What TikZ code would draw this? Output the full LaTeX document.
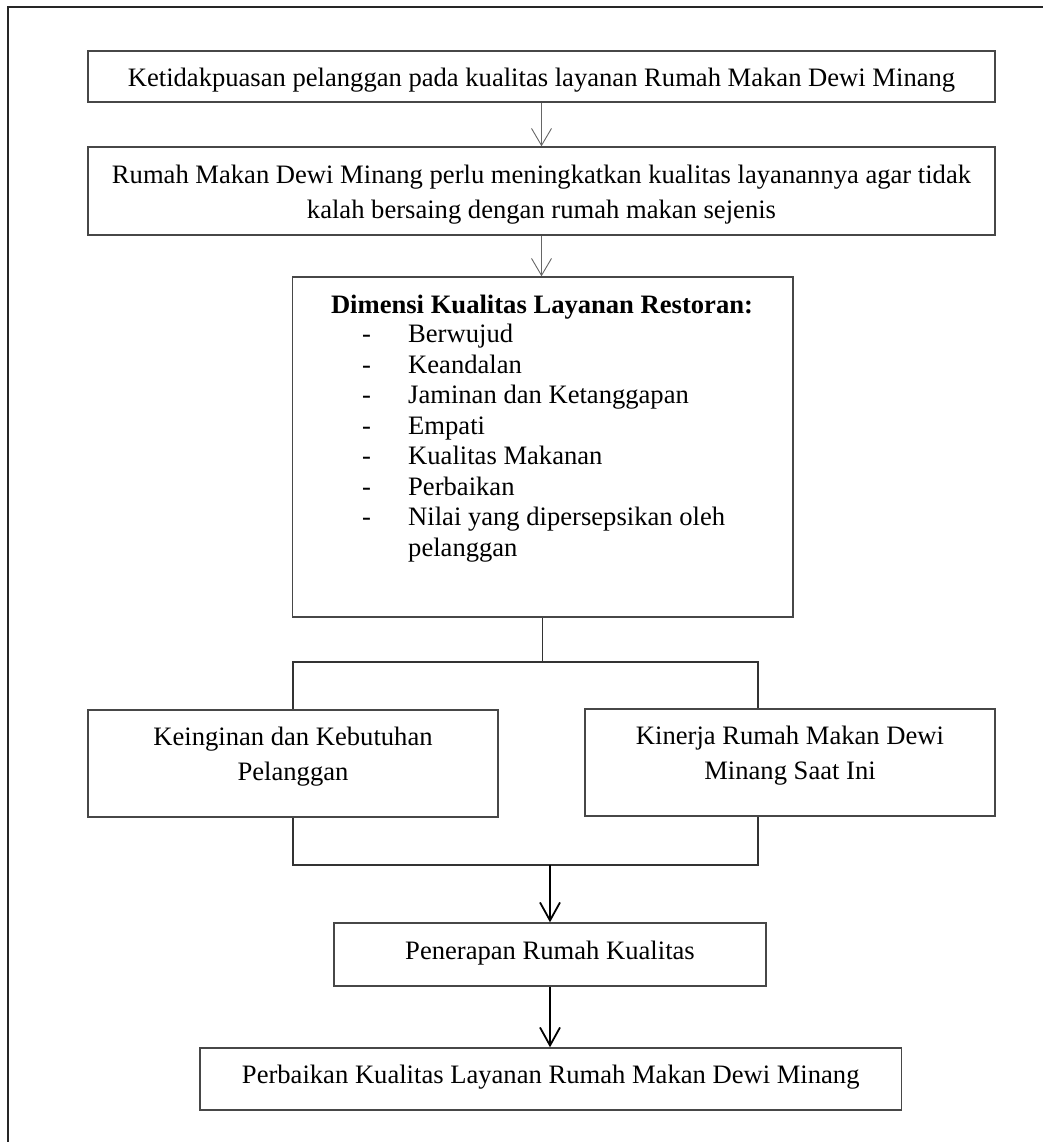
\documentclass[tikz,border=0pt]{standalone}
\usepackage{fontspec}
\setmainfont{Liberation Serif}
\usetikzlibrary{arrows.meta}
\begin{document}
\begin{tikzpicture}[x=1pt,y=-1pt,
  box/.style={draw=black!72,line width=1.4pt,inner sep=0pt},
  txt/.style={font={\fontsize{26.6}{35}\selectfont},align=center,inner sep=0pt,anchor=base},
  thinarrow/.style={draw=black!60,line width=0.9pt,-{Straight Barb[length=17pt,width=20pt,line width=0.9pt]}},
  thickarrow/.style={draw=black,line width=1.8pt,-{Straight Barb[length=18pt,width=20pt,line width=1.8pt]}},
  link/.style={draw=black!80,line width=1.3pt}]
\useasboundingbox (0,0) rectangle (1043,1142);
% outer frame (top and left)
\coordinate (fTL) at (8,7);
\coordinate (fTR) at (1043,7);
\coordinate (fBL) at (8,1142);
\draw[black!85,line width=1.4pt] (fTR) -- (fTL) -- (fBL);
% boxes
\node[box,minimum width=907pt,minimum height=51pt] (b1) at (541.5,76.5) {};
\node[box,minimum width=907pt,minimum height=88pt] (b2) at (541.5,191) {};
\node[box,minimum width=500.5pt,minimum height=340pt] (b3) at (542.75,447) {};
\node[box,minimum width=410pt,minimum height=107pt] (b4) at (293,763.5) {};
\node[box,minimum width=410pt,minimum height=107pt] (b5) at (790,762.5) {};
\node[box,minimum width=432pt,minimum height=63pt] (b6) at (550,954.5) {};
\node[box,minimum width=701.5pt,minimum height=62pt] (b7) at (550.75,1079) {};
% texts (anchor base = baseline of the last line)
\node[txt] (t1) at (541.5,87) {Ketidakpuasan pelanggan pada kualitas layanan Rumah Makan Dewi Minang};
\node[txt] (t2) at (541.5,218) {Rumah Makan Dewi Minang perlu meningkatkan kualitas layanannya agar tidak\\kalah bersaing dengan rumah makan sejenis};
\node[txt,font={\fontsize{26.6}{35}\selectfont\bfseries}] (t3) at (542,313) {Dimensi Kualitas Layanan Restoran:};
\node[txt,align=left,anchor=base west,font={\fontsize{26.6}{30.5}\selectfont}] (t3l) at (362,556)
  {\makebox[46pt][l]{-}Berwujud\\
   \makebox[46pt][l]{-}Keandalan\\
   \makebox[46pt][l]{-}Jaminan dan Ketanggapan\\
   \makebox[46pt][l]{-}Empati\\
   \makebox[46pt][l]{-}Kualitas Makanan\\
   \makebox[46pt][l]{-}Perbaikan\\
   \makebox[46pt][l]{-}Nilai yang dipersepsikan oleh\\
   \hspace*{46pt}pelanggan};
\node[txt] (t4) at (293,780) {Keinginan dan Kebutuhan\\Pelanggan};
\node[txt] (t5) at (790,779) {Kinerja Rumah Makan Dewi\\Minang Saat Ini};
\node[txt] (t6) at (550,959) {Penerapan Rumah Kualitas};
\node[txt] (t7) at (550.75,1083) {Perbaikan Kualitas Layanan Rumah Makan Dewi Minang};
% connectors
\draw[thinarrow] (b1.south) -- (b2.north);
\draw[thinarrow] (b2.south) -- (b2.south |- b3.north);
\coordinate (split) at (542.5,662);
\coordinate (splitL) at (293,662);
\coordinate (splitR) at (758,662);
\coordinate (joinL) at (293,865);
\coordinate (joinR) at (758,865);
\coordinate (join) at (550,865);
\draw[link] (b3.south -| split) -- (split);
\draw[link] (b4.north) -- (splitL) -- (splitR) -- (splitR |- b5.north);
\draw[link] (b4.south) -- (joinL) -- (joinR) -- (joinR |- b5.south);
\draw[thickarrow] (join) -- (b6.north);
\draw[thickarrow] (b6.south) -- (b6.south |- b7.north);
\end{tikzpicture}
\end{document}
